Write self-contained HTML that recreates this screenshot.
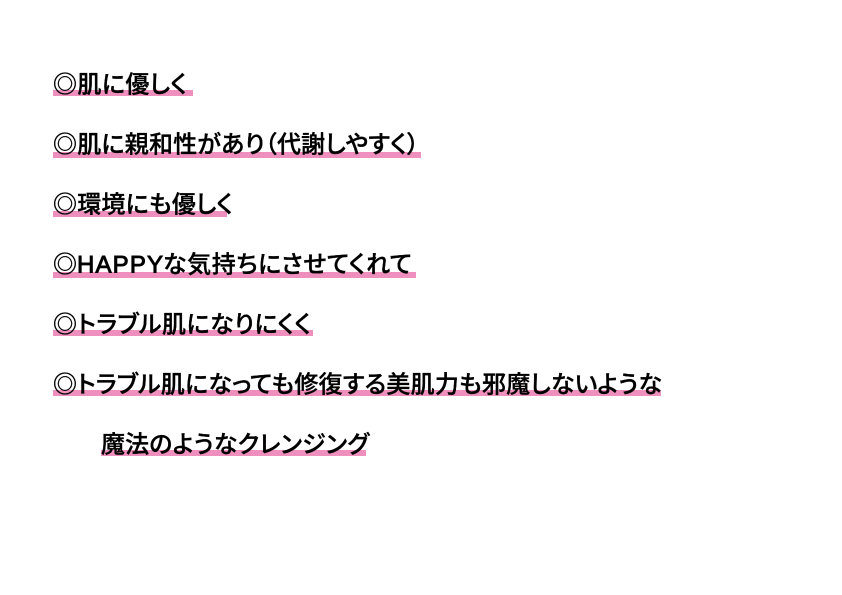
<!DOCTYPE html>
<html lang="ja"><head><meta charset="utf-8"><style>
html,body{margin:0;padding:0;background:#fff;width:842px;height:595px;overflow:hidden}
svg{display:block}
text{font-family:"Liberation Sans","Noto Sans CJK JP",sans-serif;font-size:24px;font-weight:500;fill:#000;stroke:#000;stroke-width:.35px;font-feature-settings:"palt"}
rect{fill:#ee8fbd}
</style></head><body>
<svg width="842" height="595" viewBox="0 0 842 595" xmlns="http://www.w3.org/2000/svg">
<rect x="53" y="90" width="140" height="6"/>
<rect x="53" y="152" width="368" height="6"/>
<rect x="53" y="211" width="174" height="6"/>
<rect x="53" y="272" width="363" height="6"/>
<rect x="53" y="330" width="260" height="6"/>
<rect x="53" y="390" width="608" height="6"/>
<rect x="101" y="450" width="265" height="6"/>
<text x="53" y="92.3" textLength="134" lengthAdjust="spacing">◎肌に優しく</text>
<text x="53" y="152.3" textLength="366" lengthAdjust="spacing">◎肌に親和性があり（代謝しやすく）</text>
<text x="53" y="212.3" textLength="180" lengthAdjust="spacing">◎環境にも優しく</text>
<text x="53" y="272.3">◎</text>
<text x="77" y="272.3" textLength="86" lengthAdjust="spacing" style="stroke-width:.9px">HAPPY</text>
<text x="163" y="272.3" textLength="249" lengthAdjust="spacing">な気持ちにさせてくれて</text>
<text x="53" y="332.3" textLength="258" lengthAdjust="spacing">◎トラブル肌になりにくく</text>
<text x="53" y="392.3" textLength="609" lengthAdjust="spacing">◎トラブル肌になっても修復する美肌力も邪魔しないような</text>
<text x="101" y="452.3" textLength="268" lengthAdjust="spacing">魔法のようなクレンジング</text>
</svg>
</body></html>
